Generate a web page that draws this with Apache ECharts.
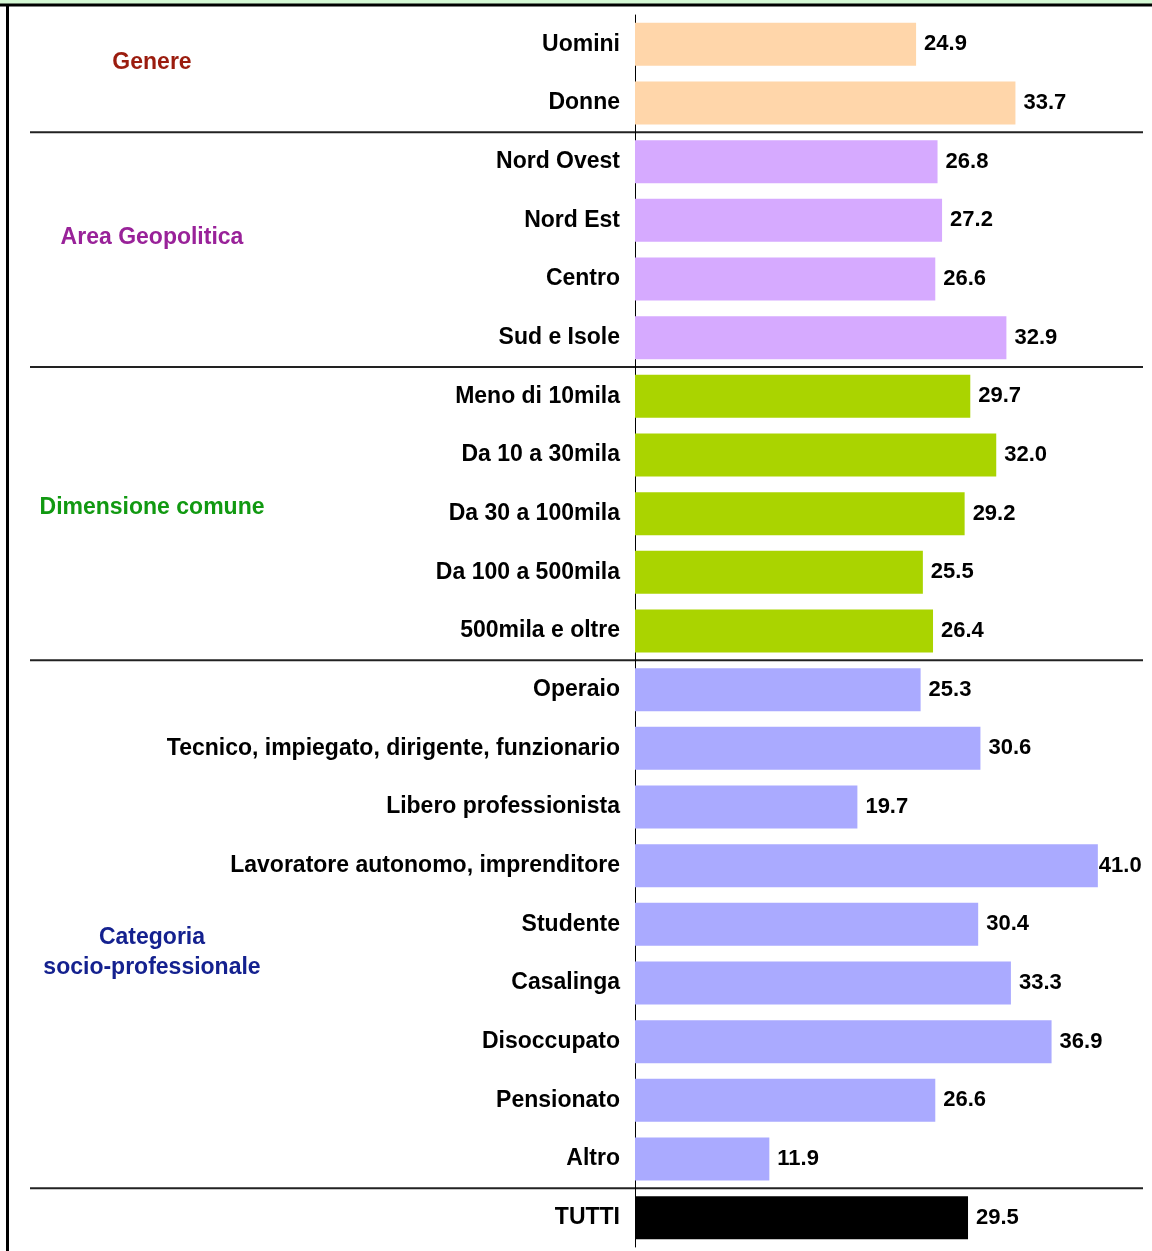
<!DOCTYPE html>
<html>
<head>
<meta charset="utf-8">
<style>
  html, body { margin: 0; padding: 0; background: #fff; }
  #chart { width: 1152px; height: 1251px; }
</style>
<script src="https://cdn.jsdelivr.net/npm/echarts@6/dist/echarts.min.js"></script>
</head>
<body>
<div id="chart"></div>
<script>
const categories = [
  'Uomini', 'Donne',
  'Nord Ovest', 'Nord Est', 'Centro', 'Sud e Isole',
  'Meno di 10mila', 'Da 10 a 30mila', 'Da 30 a 100mila', 'Da 100 a 500mila', '500mila e oltre',
  'Operaio', 'Tecnico, impiegato, dirigente, funzionario', 'Libero professionista',
  'Lavoratore autonomo, imprenditore', 'Studente', 'Casalinga', 'Disoccupato', 'Pensionato', 'Altro',
  'TUTTI'
]
const values = [
  24.9, 33.7,
  26.8, 27.2, 26.6, 32.9,
  29.7, 32.0, 29.2, 25.5, 26.4,
  25.3, 30.6, 19.7, 41.0, 30.4, 33.3, 36.9, 26.6, 11.9,
  29.5
]
// group of each category (index into groups)
const groupOf = [0, 0, 1, 1, 1, 1, 2, 2, 2, 2, 2, 3, 3, 3, 3, 3, 3, 3, 3, 3, 4]
const groupNames = ['Genere', 'Area Geopolitica', 'Dimensione comune', 'Categoria\nsocio-professionale', '']
const groupLabelColors = ['#9b1c0e', '#992299', '#119911', '#14218f', '#000']
const barColors = ['#ffd6aa', '#d6aaff', '#aad400', '#aaaaff', '#000000']
// where the group title sits, as a position in category rows
const groupLabelRow = [0.32, 3.3, 7.9, 15.49]

const FONT = '"Liberation Sans", Arial, sans-serif'
const chart = echarts.init(document.getElementById('chart'))
const maxVal = Math.max(...values)

const option = {
  animation: false,
  backgroundColor: '#fff',
  grid: { left: 635, top: 15, width: 508, height: 1232, containLabel: false },
  xAxis: {
    type: 'value',
    min: 0,
    max: 45,
    show: false
  },
  yAxis: {
    type: 'category',
    inverse: true,
    data: categories,
    axisLine: { show: true, lineStyle: { color: '#000', width: 1 } },
    axisTick: { show: false },
    axisLabel: {
      margin: 15,
      color: '#000',
      fontFamily: FONT,
      fontWeight: 'bold',
      fontSize: 23
    }
  },
  series: [
    {
      type: 'bar',
      barWidth: 43,
      data: values.map((v, i) => ({
        value: v,
        itemStyle: { color: barColors[groupOf[i]] },
        // the longest bar's label is squeezed against the bar end
        label: v === maxVal ? { distance: 1 } : undefined
      })),
      label: {
        show: true,
        position: 'right',
        distance: 8,
        formatter: (p) => p.value.toFixed(1),
        color: '#000',
        fontFamily: FONT,
        fontWeight: 'bold',
        fontSize: 22
      }
    }
  ]
}

chart.setOption(option)

// separators between groups and group titles
const y0 = chart.convertToPixel({ yAxisIndex: 0 }, categories[0])
const step = chart.convertToPixel({ yAxisIndex: 0 }, categories[1]) - y0
const graphics = [
  { type: 'rect', shape: { x: 0, y: 0, width: 1152, height: 5 }, style: { fill: '#d4f8d4' } },
  { type: 'line', shape: { x1: 0, y1: 5, x2: 1152, y2: 5 }, style: { stroke: '#000', lineWidth: 3 } },
  { type: 'line', shape: { x1: 7.5, y1: 5, x2: 7.5, y2: 1251 }, style: { stroke: '#000', lineWidth: 3 } }
]
for (let i = 1; i < categories.length; i++) {
  if (groupOf[i] !== groupOf[i - 1]) {
    const y = y0 + (i - 0.5) * step
    graphics.push({
      type: 'line',
      shape: { x1: 30, y1: y, x2: 1143, y2: y },
      style: { stroke: '#222', lineWidth: 2 }
    })
  }
}
groupLabelRow.forEach((r, g) => {
  graphics.push({
    type: 'text',
    x: 152,
    y: y0 + r * step,
    style: {
      text: groupNames[g],
      fill: groupLabelColors[g],
      font: 'bold 23px ' + FONT,
      align: 'center',
      verticalAlign: 'middle',
      lineHeight: 30
    }
  })
})
chart.setOption({ graphic: graphics })
</script>
</body>
</html>
